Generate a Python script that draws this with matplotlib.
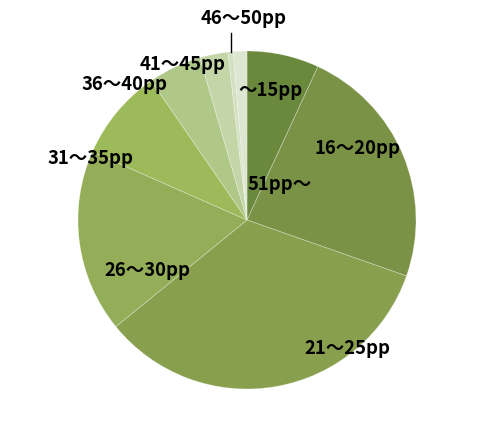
import numpy as np
import matplotlib
matplotlib.use('Agg')
import matplotlib.pyplot as plt

plt.rcParams['font.family'] = ['Noto Sans CJK JP', 'DejaVu Sans']

# share of each range (percent), clockwise from 12 o'clock
labels = ['～15pp', '16～20pp', '21～25pp', '26～30pp', '31～35pp',
          '36～40pp', '41～45pp', '46～50pp', '51pp～']
shares = [6.9, 23.5, 33.8, 17.5, 8.8, 5.1, 2.7, 0.5, 1.3]
colors = ['#6b893d', '#7a9246', '#88a04e', '#93ad58', '#9dba5a',
          '#afc787', '#c4d6a8', '#d3e0c1', '#dce6d1']

# label centres in pixels (x from left, y from top)
label_pos = [(270, 91), (358, 149), (347, 348), (147, 271), (90, 158),
             (124, 85), (183, 65), (244, 19), (280, 185)]

W, H = 503, 436
cx, cy, r = 247, 220, 169

fig = plt.figure(figsize=(W / 100, H / 100), dpi=100)
ax = fig.add_axes([0, 0, 1, 1])
wedges, _ = ax.pie(shares, colors=colors, startangle=90, counterclock=False,
                   center=(cx, H - cy), radius=r,
                   wedgeprops=dict(edgecolor=(1, 1, 1, 0.3), linewidth=0.6))
ax.set_xlim(0, W)
ax.set_ylim(0, H)
ax.set_aspect('equal')
ax.axis('off')

for lab, (px, py) in zip(labels, label_pos):
    ax.text(px, H - py, lab, ha='center', va='center', fontsize=13.3,
            fontweight='bold', color='black')

# leader line for the tiny 46～50pp slice
w = wedges[7]
mid = np.deg2rad((w.theta1 + w.theta2) / 2)
lx = cx + r * np.cos(mid)
ax.plot([lx, lx], [H - cy + r * np.sin(mid), H - 33], color='black', lw=1)

fig.savefig('out.png', dpi=100)
